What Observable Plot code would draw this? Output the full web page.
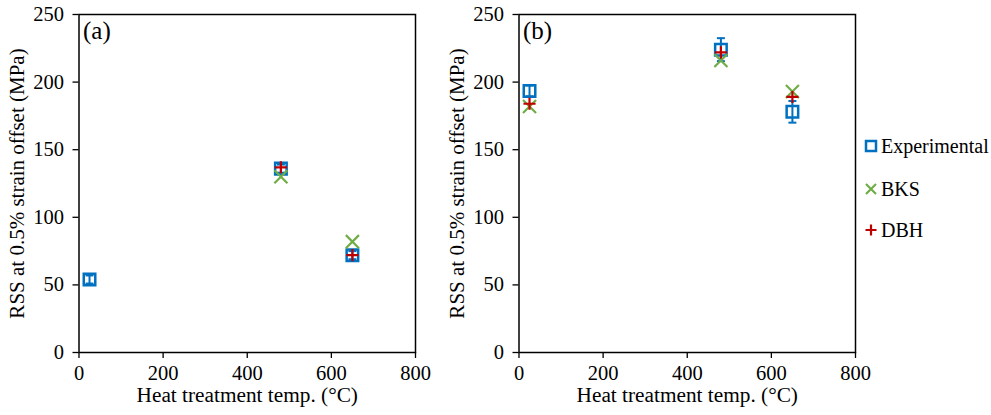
<!DOCTYPE html>
<html>
<head>
<meta charset="utf-8">
<script src="https://cdn.jsdelivr.net/npm/d3@7"></script>
<script src="https://cdn.jsdelivr.net/npm/@observablehq/plot@0.6"></script>
<style>
  body { margin: 0; background: #fff; }
  #wrap { position: relative; width: 991px; height: 415px; font-family: "Liberation Serif", "Times New Roman", serif; }
  .panel { position: absolute; top: 0; }
  .panel text { font-family: "Liberation Serif", "Times New Roman", serif; }
  .leg { position: absolute; left: 864px; display: flex; align-items: center; font-size: 20px; color: #000; }
  .leg svg { margin-right: 3px; }
</style>
</head>
<body>
<div id="wrap"></div>
<script>
// ---- data ----
const temps = [25, 480, 650];
const panelNames = ["(a)", "(b)"];
const seriesNames = ["Experimental", "BKS", "DBH"];
// panel (a)
const expA = [54, 136, 72];
const errA = [3, 3, 3];
const bksA = [null, 130, 82];
const dbhA = [null, 137, 72];
// panel (b)
const expB = [193.5, 224, 178];
const errB = [4, 8.5, 8];
const bksB = [182, 216, 193];
const dbhB = [184, 222, 189];
const xTicks = [0, 200, 400, 600, 800];
const yTicks = [0, 50, 100, 150, 200, 250];
const xLabel = "Heat treatment temp. (°C)";
const yLabel = "RSS at 0.5% strain offset (MPa)";

const colors = {Experimental: "#0070C0", BKS: "#70AD47", DBH: "#C00000"};
const serif = "Liberation Serif, Times New Roman, serif";

const capSymbol = { draw(ctx, size) { const w = Math.sqrt(size) * 0.5; ctx.moveTo(-w, 0); ctx.lineTo(w, 0); } };

function panel(name, exp, err, bks, dbh) {
  const rows = temps.map((t, i) => ({t, exp: exp[i], err: err[i], bks: bks[i], dbh: dbh[i]}));
  const expRows = rows.filter(d => d.exp != null);
  const bksRows = rows.filter(d => d.bks != null);
  const dbhRows = rows.filter(d => d.dbh != null);
  const svg = Plot.plot({
    width: 440, height: 415,
    marginLeft: 78.5, marginRight: 25, marginTop: 14, marginBottom: 63,
    x: {domain: [0, 800]},
    y: {domain: [0, 250]},
    marks: [
      Plot.axisX({ticks: xTicks, tickSize: 6, tickPadding: 7, fontSize: 20.5, fontFamily: serif, label: null, stroke: "#000", fill: "#000", strokeWidth: 1.3}),
      Plot.axisY({ticks: yTicks, tickSize: 6, tickPadding: 9, fontSize: 20.5, fontFamily: serif, label: null, stroke: "#000", fill: "#000", strokeWidth: 1.3}),
      Plot.frame({stroke: "#000", strokeWidth: 1.5}),
      Plot.text([xLabel], {frameAnchor: "bottom", dy: 49.5, fontSize: 21.3, fontFamily: serif, fill: "#000"}),
      Plot.text([yLabel], {frameAnchor: "left", textAnchor: "middle", rotate: -90, dx: -61.5, fontSize: 21, fontFamily: serif, fill: "#000"}),
      Plot.text([name], {frameAnchor: "top-left", dx: 4, dy: 7, fontSize: 25, fontFamily: serif, fill: "#000", lineAnchor: "top"}),
      // error bars
      Plot.ruleX(expRows, {x: "t", y1: d => d.exp - d.err, y2: d => d.exp + d.err, stroke: colors.Experimental, strokeWidth: 2}),
      Plot.dot(expRows, {x: "t", y: d => d.exp - d.err, symbol: capSymbol, r: 4.5, stroke: colors.Experimental, strokeWidth: 2}),
      Plot.dot(expRows, {x: "t", y: d => d.exp + d.err, symbol: capSymbol, r: 4.5, stroke: colors.Experimental, strokeWidth: 2}),
      // experimental squares
      Plot.dot(expRows, {x: "t", y: "exp", symbol: "square", r: 6.5, stroke: colors.Experimental, fill: "none", strokeWidth: 2.5}),
      Plot.dot(bksRows, {x: "t", y: "bks", symbol: "times", r: 6, stroke: colors.BKS, strokeWidth: 2.2}),
      Plot.dot(dbhRows, {x: "t", y: "dbh", symbol: "plus", r: 4, stroke: colors.DBH, strokeWidth: 2.2})
    ]
  });
  svg.style.fontFamily = serif;
  return svg;
}

const wrap = document.getElementById("wrap");
const pa = panel(panelNames[0], expA, errA, bksA, dbhA);
pa.classList.add("panel"); pa.style.left = "0px";
const pb = panel(panelNames[1], expB, errB, bksB, dbhB);
pb.classList.add("panel"); pb.style.left = "440px";
wrap.appendChild(pa); wrap.appendChild(pb);

// legend
const legSyms = {
  Experimental: `<rect x="2" y="2" width="10" height="10" fill="none" stroke="${colors.Experimental}" stroke-width="2.5"/>`,
  BKS: `<path d="M2,2L12,12M12,2L2,12" stroke="${colors.BKS}" stroke-width="2.2"/>`,
  DBH: `<path d="M1.5,7H12.5M7,1.5V12.5" stroke="${colors.DBH}" stroke-width="2.2"/>`
};
const legY = [146, 189, 230];
seriesNames.forEach((s, i) => {
  const d = document.createElement("div");
  d.className = "leg";
  d.style.top = (legY[i] - 12) + "px";
  d.style.height = "24px";
  d.innerHTML = `<svg width="14" height="14" viewBox="0 0 14 14">${legSyms[s]}</svg><span>${s}</span>`;
  wrap.appendChild(d);
});
</script>
</body>
</html>
